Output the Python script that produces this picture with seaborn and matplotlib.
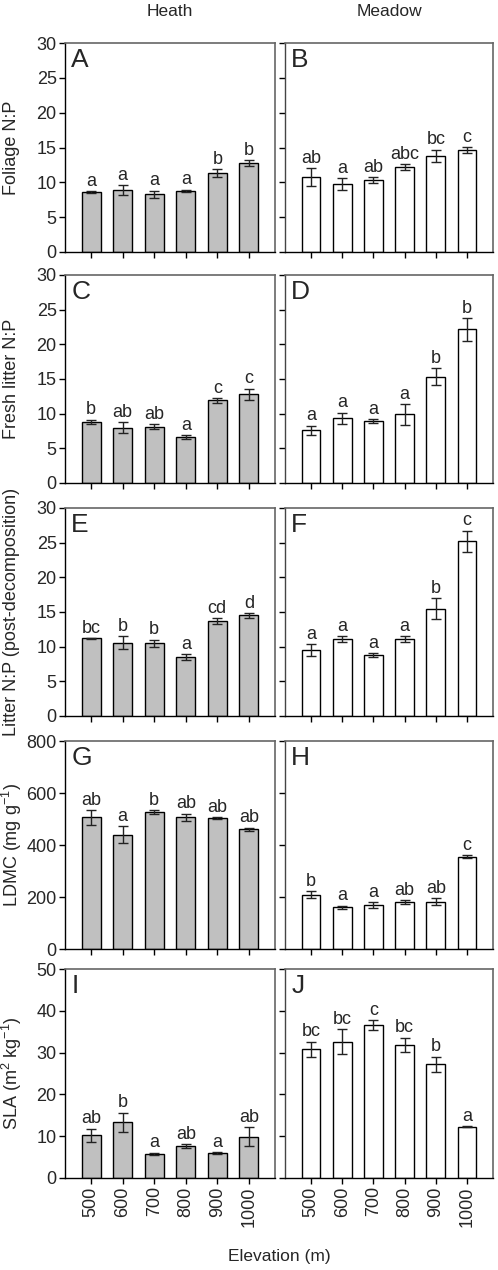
import numpy as np
import pandas as pd
import matplotlib
matplotlib.use("Agg")
import matplotlib.pyplot as plt
import seaborn as sns

# Elevation categories
elevation = ["500", "600", "700", "800", "900", "1000"]

# Heath (left column) means, errors and letters
heath_foliage = [8.6, 8.9, 8.3, 8.8, 11.3, 12.8]
heath_foliage_se = [0.15, 0.7, 0.5, 0.15, 0.58, 0.4]
heath_foliage_lab = ["a", "a", "a", "a", "b", "b"]

heath_fresh = [8.8, 8.0, 8.1, 6.6, 11.9, 12.8]
heath_fresh_se = [0.34, 0.75, 0.38, 0.3, 0.36, 0.8]
heath_fresh_lab = ["b", "ab", "ab", "a", "c", "c"]

heath_litter = [11.2, 10.6, 10.5, 8.5, 13.7, 14.5]
heath_litter_se = [0.05, 0.87, 0.53, 0.43, 0.43, 0.3]
heath_litter_lab = ["bc", "b", "b", "a", "cd", "d"]

heath_ldmc = [506, 440, 527, 506, 504, 460]
heath_ldmc_se = [29, 32, 8, 15, 4, 6]
heath_ldmc_lab = ["ab", "a", "b", "ab", "ab", "ab"]

heath_sla = [10.2, 13.3, 5.8, 7.6, 5.9, 9.9]
heath_sla_se = [1.64, 2.36, 0.24, 0.48, 0.24, 2.3]
heath_sla_lab = ["ab", "b", "a", "ab", "a", "ab"]

# Meadow (right column)
meadow_foliage = [10.75, 9.75, 10.3, 12.2, 13.8, 14.6]
meadow_foliage_se = [1.3, 0.86, 0.4, 0.4, 0.9, 0.43]
meadow_foliage_lab = ["ab", "a", "ab", "abc", "bc", "c"]

meadow_fresh = [7.6, 9.35, 8.95, 9.9, 15.3, 22.15]
meadow_fresh_se = [0.67, 0.77, 0.29, 1.5, 1.23, 1.66]
meadow_fresh_lab = ["a", "a", "a", "a", "b", "b"]

meadow_litter = [9.5, 11.05, 8.75, 11.05, 15.45, 25.2]
meadow_litter_se = [0.84, 0.43, 0.29, 0.43, 1.5, 1.5]
meadow_litter_lab = ["a", "a", "a", "a", "b", "c"]

meadow_ldmc = [209, 161, 169, 181, 182, 355]
meadow_ldmc_se = [13, 6, 12, 6, 13, 6]
meadow_ldmc_lab = ["b", "a", "a", "ab", "ab", "c"]

meadow_sla = [30.8, 32.6, 36.5, 31.8, 27.2, 12.3]
meadow_sla_se = [1.84, 2.96, 1.2, 1.76, 1.84, 0.15]
meadow_sla_lab = ["bc", "bc", "c", "bc", "b", "a"]

ylabels = ["Foliage N:P", "Fresh litter N:P", "Litter N:P (post-decomposition)",
           "LDMC (mg g$^{-1}$)", "SLA (m$^{2}$ kg$^{-1}$)"]
ymax = [30, 30, 30, 800, 50]
ystep = [5, 5, 5, 200, 10]
panel_letters = [["A", "B"], ["C", "D"], ["E", "F"], ["G", "H"], ["I", "J"]]

heath = [(heath_foliage, heath_foliage_se, heath_foliage_lab),
         (heath_fresh, heath_fresh_se, heath_fresh_lab),
         (heath_litter, heath_litter_se, heath_litter_lab),
         (heath_ldmc, heath_ldmc_se, heath_ldmc_lab),
         (heath_sla, heath_sla_se, heath_sla_lab)]
meadow = [(meadow_foliage, meadow_foliage_se, meadow_foliage_lab),
          (meadow_fresh, meadow_fresh_se, meadow_fresh_lab),
          (meadow_litter, meadow_litter_se, meadow_litter_lab),
          (meadow_ldmc, meadow_ldmc_se, meadow_ldmc_lab),
          (meadow_sla, meadow_sla_se, meadow_sla_lab)]

sns.set_style("ticks")
plt.rcParams["font.family"] = ["Liberation Sans", "DejaVu Sans"]
plt.rcParams["mathtext.default"] = "regular"

W, H = 498, 1270
fig = plt.figure(figsize=(W / 100, H / 100), dpi=100)

tops = [43, 275, 508, 741, 969]
bots = [252, 483, 716, 949, 1178]
cols = [(65, 275), (285, 493)]
colors = ["#c0c0c0", "white"]

for r in range(5):
    for c in range(2):
        x0, x1 = cols[c]
        ax = fig.add_axes([x0 / W, 1 - bots[r] / H, (x1 - x0) / W, (bots[r] - tops[r]) / H])
        vals, se, labs = (heath if c == 0 else meadow)[r]
        df = pd.DataFrame({"elev": elevation, "val": vals})
        sns.barplot(data=df, x="elev", y="val", order=elevation, color=colors[c],
                    saturation=1, width=0.6, edgecolor="black", linewidth=1,
                    errorbar=None, ax=ax)
        ax.errorbar(np.arange(6), vals, yerr=se, fmt="none", ecolor="#222222",
                    elinewidth=1, capsize=3.5, capthick=1)
        for i in range(6):
            ax.annotate(labs[i], (i, vals[i] + se[i]), xytext=(0, 1),
                        textcoords="offset points", ha="center", va="bottom",
                        fontsize=13)
        ax.set_xlim(-0.83, 5.83)
        ax.set_ylim(0, ymax[r])
        ax.set_yticks(np.arange(0, ymax[r] + 1, ystep[r]))
        ax.set_xlabel("")
        ax.set_ylabel("")
        ax.tick_params(direction="out", length=4, width=1, labelsize=13, color="black", pad=2)
        if c == 0:
            ax.set_ylabel(ylabels[r], fontsize=13)
            lx = -45 if r < 3 else -41
            ax.yaxis.set_label_coords(lx / 210, 0.5)
        else:
            ax.set_yticklabels([])
        if r == 4:
            ax.set_xticks(range(6))
            ax.set_xticklabels(elevation, rotation=90)
        else:
            ax.set_xticklabels([])
        for side in ["top", "right"]:
            ax.spines[side].set_color("#666666")
            ax.spines[side].set_linewidth(1.2)
        for side in ["left", "bottom"]:
            ax.spines[side].set_color("black")
            ax.spines[side].set_linewidth(1)
        if c == 1:
            ax.spines["left"].set_color("#444444")
        ax.text(0.03, 0.975, panel_letters[r][c], transform=ax.transAxes,
                fontsize=19, va="top", ha="left")

fig.text(170 / W, 1 - 12 / H, "Heath", ha="center", va="center", fontsize=12.5)
fig.text(389 / W, 1 - 12 / H, "Meadow", ha="center", va="center", fontsize=12.5)
fig.text(279 / W, 1 - 1256 / H, "Elevation (m)", ha="center", va="center", fontsize=12.5)

fig.savefig("out.png", dpi=100)
